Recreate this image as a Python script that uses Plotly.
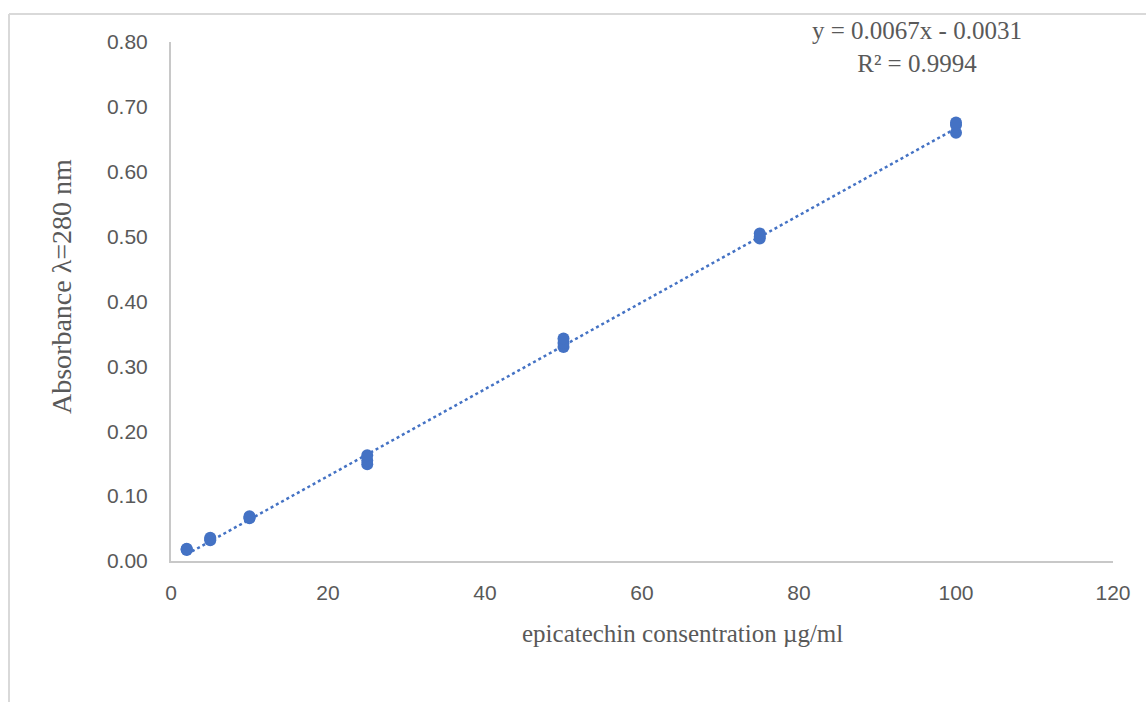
import plotly.graph_objects as go

# Data (triplicate readings)
concentration = [2, 2, 2, 5, 5, 5, 10, 10, 10, 25, 25, 25, 50, 50, 50, 75, 75, 75, 100, 100, 100]
absorbance = [0.017, 0.018, 0.019, 0.032, 0.034, 0.036, 0.066, 0.067, 0.069,
              0.149, 0.155, 0.163, 0.330, 0.336, 0.343, 0.497, 0.500, 0.505,
              0.660, 0.672, 0.676]

slope = 0.0067
intercept = -0.0031
trend_x = [2, 100]
trend_y = [slope * x + intercept for x in trend_x]

x_ticks = [0, 20, 40, 60, 80, 100, 120]
y_ticks = [0.0, 0.1, 0.2, 0.3, 0.4, 0.5, 0.6, 0.7, 0.8]

blue = "#4472C4"
fig = go.Figure()
fig.add_trace(go.Scatter(x=trend_x, y=trend_y, mode="lines",
                         line=dict(color=blue, width=2.5, dash="dot"),
                         showlegend=False, hoverinfo="skip"))
fig.add_trace(go.Scatter(x=concentration, y=absorbance, mode="markers",
                         marker=dict(color=blue, size=12),
                         showlegend=False))

L, R, T, B = 171, 33, 42, 141
W, H = 1146, 702
pw, ph = W - L - R, H - T - B

def px(xp):
    return (xp - L) / pw

def py(yp):
    return (H - B - yp) / ph

fig.add_shape(type="line", xref="paper", yref="paper",
              x0=px(9), x1=px(1146), y0=py(14), y1=py(14),
              line=dict(color="#d9d9d9", width=2))
fig.add_shape(type="line", xref="paper", yref="paper",
              x0=px(9), x1=px(9), y0=py(14), y1=py(702),
              line=dict(color="#d9d9d9", width=2))

grey = "#595959"
fig.add_annotation(xref="paper", yref="paper", x=px(917), y=py(47),
                   text="y = 0.0067x - 0.0031<br>R² = 0.9994", showarrow=False,
                   font=dict(family="Liberation Serif", size=25, color=grey),
                   align="center", xanchor="center", yanchor="middle")
fig.add_annotation(xref="paper", yref="paper", x=px(682), y=py(633),
                   text="epicatechin consentration µg/ml", showarrow=False,
                   font=dict(family="Liberation Serif", size=25, color=grey),
                   xanchor="center", yanchor="middle")
fig.add_annotation(xref="paper", yref="paper", x=px(61), y=py(287),
                   text="Absorbance λ=280 nm", showarrow=False, textangle=-90,
                   font=dict(family="Liberation Serif", size=28, color=grey),
                   xanchor="center", yanchor="middle")

fig.update_layout(
    width=W, height=H,
    margin=dict(l=L, r=R, t=T, b=B),
    paper_bgcolor="white", plot_bgcolor="white",
    xaxis=dict(range=[0, 120], tickvals=x_ticks, ticktext=[str(v) for v in x_ticks],
               showgrid=False, zeroline=False, showline=True, linecolor="#c8c8c8",
               linewidth=2, ticks="", ticklabelstandoff=12,
               tickfont=dict(family="Liberation Sans", size=21, color=grey)),
    yaxis=dict(range=[0, 0.8], tickvals=y_ticks, ticktext=[f"{v:.2f}" for v in y_ticks],
               showgrid=False, zeroline=False, showline=True, linecolor="#c8c8c8",
               linewidth=2, ticks="", ticklabelstandoff=17,
               tickfont=dict(family="Liberation Sans", size=21, color=grey)),
)

fig.write_html("out.html")
